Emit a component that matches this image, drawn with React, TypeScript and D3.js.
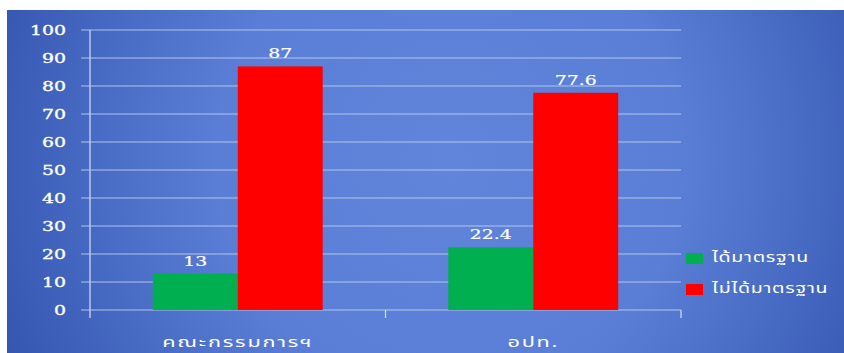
import React from "react";
import * as d3 from "d3";

// Categories, series and tick labels
const categories = ["คณะกรรมการฯ", "อปท."];
const seriesNames = ["ได้มาตรฐาน", "ไม่ได้มาตรฐาน"];
const passValues = [13, 22.4];
const failValues = [87, 77.6];
const seriesColors = ["#00b050", "#ff0000"];
const yTicks = [0, 10, 20, 30, 40, 50, 60, 70, 80, 90, 100];

const W = 844;
const H = 353;
const plot = { left: 90, right: 681, top: 30, bottom: 310 };
const numFont = "'DejaVu Serif', 'Liberation Serif', serif";
const thaiFont = "'Noto Sans Thai', 'Noto Sans', sans-serif";
const stretch = 1.45;

function Stretched({ x, y, anchor, size, font, spacing = 0, weightStroke = 0, children }: any) {
  return (
    <text
      transform={`translate(${x},${y}) scale(${stretch},1)`}
      textAnchor={anchor}
      fontSize={size}
      fontFamily={font}
      letterSpacing={spacing}
      fill="#ffffff"
      stroke={weightStroke ? "#ffffff" : "none"}
      strokeWidth={weightStroke}
    >
      {children}
    </text>
  );
}

export default function App() {
  const x0 = d3
    .scaleBand<string>()
    .domain(categories)
    .range([plot.left, plot.right])
    .paddingInner(0)
    .paddingOuter(0);
  const groupWidth = x0.bandwidth() * 0.575;
  const x1 = d3
    .scaleBand<number>()
    .domain([0, 1])
    .range([0, groupWidth]);
  const y = d3.scaleLinear().domain([0, 100]).range([plot.bottom, plot.top]);

  const series = [passValues, failValues];
  const groupStart = (c: string) =>
    (x0(c) as number) + (x0.bandwidth() - groupWidth) / 2;

  const tickBottom = plot.bottom + 8;

  return (
    <svg
      width={W}
      height={H}
      style={{ position: "absolute", left: 0, top: 0, display: "block" }}
    >
      <defs>
        <radialGradient
          id="bg"
          gradientUnits="userSpaceOnUse"
          cx={450}
          cy={160}
          r={520}
        >
          <stop offset="0" stopColor="#6085da" />
          <stop offset="0.45" stopColor="#5a7ed6" />
          <stop offset="1" stopColor="#2f50ab" />
        </radialGradient>
      </defs>
      <rect x={0} y={0} width={W} height={H} fill="#ffffff" />
      <rect x={7} y={10} width={W - 7} height={H - 10} fill="url(#bg)" />

      {/* gridlines */}
      {yTicks.map((t) => (
        <line
          key={t}
          x1={plot.left - 9}
          x2={plot.right}
          y1={y(t)}
          y2={y(t)}
          stroke="#c9d6f3"
          strokeOpacity={0.8}
          strokeWidth={1.2}
        />
      ))}

      {/* axes */}
      <line x1={plot.left} x2={plot.left} y1={plot.top} y2={tickBottom} stroke="#d6e0f6" strokeWidth={1.2} />
      {categories.map((c, i) =>
        i > 0 ? (
          <line key={c} x1={x0(c)} x2={x0(c)} y1={plot.bottom} y2={tickBottom} stroke="#d6e0f6" strokeWidth={1.2} />
        ) : null
      )}
      <line x1={plot.right} x2={plot.right} y1={plot.bottom} y2={tickBottom} stroke="#d6e0f6" strokeWidth={1.2} />

      {/* y tick labels */}
      {yTicks.map((t) => (
        <Stretched key={t} x={66} y={y(t) + 5} anchor="end" size={13} font={numFont} weightStroke={0.35}>
          {t}
        </Stretched>
      ))}

      {/* bars */}
      {categories.map((c, ci) =>
        series.map((vals, si) => {
          const bx = groupStart(c) + (x1(si) as number);
          return (
            <rect
              key={`${c}-${si}`}
              x={bx}
              y={y(vals[ci])}
              width={x1.bandwidth()}
              height={y(0) - y(vals[ci])}
              fill={seriesColors[si]}
            />
          );
        })
      )}

      {/* value labels */}
      {categories.map((c, ci) =>
        series.map((vals, si) => {
          const cx = groupStart(c) + (x1(si) as number) + x1.bandwidth() / 2;
          return (
            <Stretched key={`l-${c}-${si}`} x={cx} y={y(vals[ci]) - 8} anchor="middle" size={13} font={numFont} weightStroke={0.2}>
              {vals[ci]}
            </Stretched>
          );
        })
      )}

      {/* category labels */}
      {categories.map((c) => (
        <Stretched
          key={`c-${c}`}
          x={(x0(c) as number) + x0.bandwidth() / 2}
          y={347}
          anchor="middle"
          size={15}
          font={thaiFont}
          spacing={1.2}
        >
          {c}
        </Stretched>
      ))}

      {/* legend */}
      {seriesNames.map((name, i) => (
        <g key={name}>
          <rect x={686} y={253 + i * 31} width={17} height={11} fill={seriesColors[i]} />
          <Stretched x={712} y={262 + i * 31} anchor="start" size={13.5} font={thaiFont} spacing={0.5}>
            {name}
          </Stretched>
        </g>
      ))}
    </svg>
  );
}
